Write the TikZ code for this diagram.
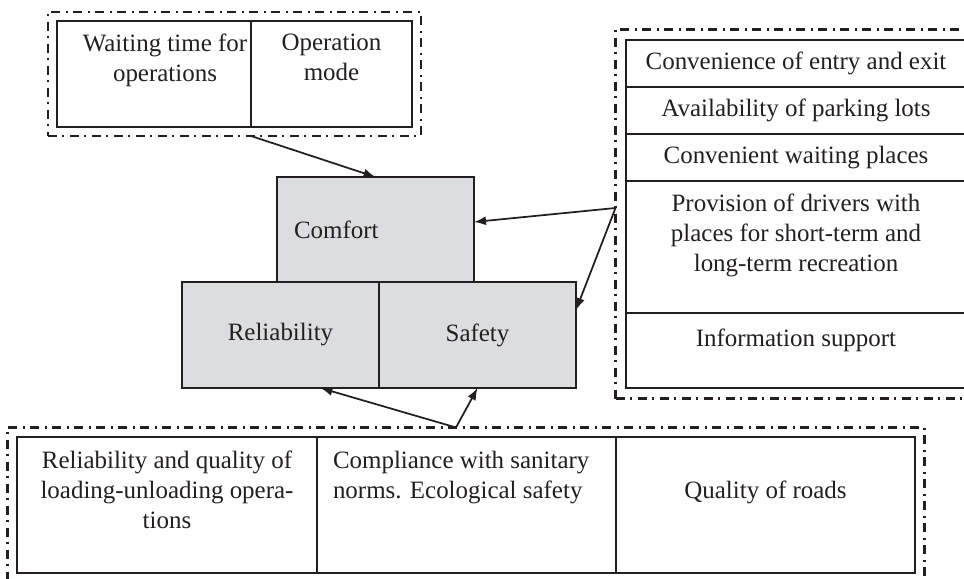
\documentclass[tikz,border=0pt]{standalone}
\usepackage{fontspec}
\setmainfont{Liberation Serif}
\usepackage{tikz}
\usetikzlibrary{arrows.meta,positioning,calc,fit}
\definecolor{ink}{RGB}{35,31,32}
\definecolor{boxgray}{RGB}{220,221,223}
\tikzset{
  >={Latex[length=2.4mm,width=1.8mm]},
  every node/.style={font=\fontsize{14.2}{17.1}\selectfont, text=ink, outer sep=0pt},
  cell/.style={draw=ink, line width=0.3mm, inner sep=0pt},
  celltext/.style={align=center, inner sep=0pt},
  factor/.style={cell, fill=boxgray, minimum width=39.4mm, minimum height=21.2mm},
  group/.style={draw=ink, line width=0.45mm, dash pattern=on 1.8mm off 1mm on 0.4mm off 1.2mm, inner sep=1.8mm},
  link/.style={->, draw=ink, line width=0.35mm},
}

\begin{document}
\begin{tikzpicture}[node distance=0mm]
  \useasboundingbox (0,0) rectangle (192.8mm,-115.8mm);

  \node[cell, minimum width=38.8mm, minimum height=21.2mm, anchor=north west] (wait) at (11.4mm,-4.2mm) {};
  \node[cell, minimum width=32.2mm, minimum height=21.2mm, right=of wait] (mode) {};
  \node[celltext, below=2.6mm of wait.north, xshift=2.2mm] (waitT) {Waiting time for\\operations};
  \node[celltext, below=2.6mm of mode.north] (modeT) {Operation\\mode};
  \node[group, fit=(wait)(mode)] (tgrp) {};

  \node[cell, minimum width=68mm, minimum height=9.4mm, anchor=north west] (entry) at (125.2mm,-8mm) {Convenience of entry and exit};
  \node[cell, minimum width=68mm, minimum height=9.4mm, below=of entry] (park) {Availability of parking lots};
  \node[cell, minimum width=68mm, minimum height=9.4mm, below=of park] (wplace) {Convenient waiting places};
  \node[cell, minimum width=68mm, minimum height=26.4mm, below=of wplace] (recr) {};
  \node[cell, minimum width=68mm, minimum height=15mm, below=of recr] (info) {};
  \node[celltext, below=2.6mm of recr.north] (recrT) {Provision of drivers with\\places for short-term and\\long-term recreation};
  \node[celltext, below=3.1mm of info.north] (infoT) {Information support};
  \node[group, fit=(entry)(info), inner sep=2.1mm] (rgrp) {};

  \node[factor, anchor=north west] (rel) at (36.4mm,-56.4mm) {Reliability};
  \node[factor, right=of rel] (safe) {Safety};
  \node[factor, minimum height=21mm, text width=32.6mm, align=left, inner xsep=3.4mm,
        above=of rel.north east, xshift=-0.7mm] (comf) {Comfort};

  \node[cell, minimum width=60mm, minimum height=27.2mm, anchor=north west] (load) at (3.4mm,-87.4mm) {};
  \node[cell, minimum width=59.8mm, minimum height=27.2mm, right=of load] (sanit) {};
  \node[cell, minimum width=59.8mm, minimum height=27.2mm, right=of sanit] (road) {};
  \node[celltext, below=2.8mm of load.north] (loadT) {Reliability and quality of\\loading-unloading opera-\\tions};
  \node[celltext, align=left, anchor=north west] (sanitT) at ($(sanit.north west)+(3.2mm,-2.8mm)$) {Compliance with sanitary\\norms. Ecological safety};
  \node[celltext, below=8.8mm of road.north] (roadT) {Quality of roads};
  \node[group, fit=(load)(road), inner sep=1.9mm] (bgrp) {};

  \coordinate (rstart) at ($(rgrp.west |- recr.north)+(0,-5.4mm)$);
  \coordinate (bstart) at ($(bgrp.north -| safe.south)+(-4.3mm,0)$);

  \draw[link] (wait.east |- tgrp.south) -- (comf.north);
  \draw[link] (rstart) -- ($(comf.east)+(0,1.5mm)$);
  \draw[link] (rstart) -- ($(safe.east)+(0,5mm)$);
  \draw[link] (bstart) -- ($(rel.south)+(8mm,0)$);
  \draw[link] (bstart) -- (safe.south);
\end{tikzpicture}
\end{document}
